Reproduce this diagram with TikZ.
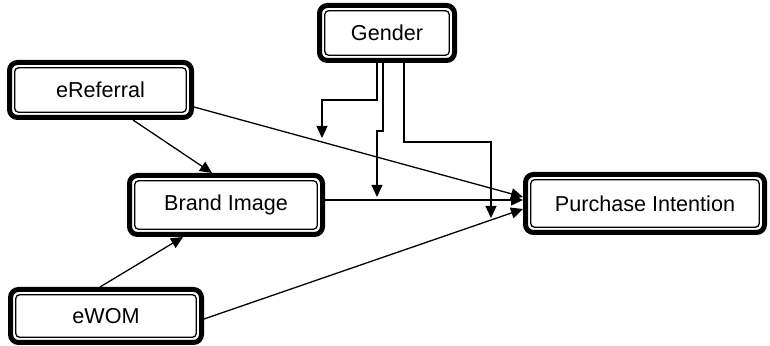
\documentclass[tikz,border=0pt]{standalone}
\usepackage{fontspec}
\setmainfont{Liberation Sans}
\usetikzlibrary{arrows.meta}

\begin{document}
\begin{tikzpicture}[x=0.5pt, y=-0.5pt,
  every node/.style={draw, line width=0.65pt, rounded corners=2pt, inner sep=0pt, outer sep=3.85pt, font=\fontsize{10.8}{13}\selectfont},
  frame/.style={line width=2.5pt, rounded corners=4pt},
  link/.style={line width=0.65pt, -{Triangle[length=6pt,width=5.5pt]}}]
\useasboundingbox (0,0) rectangle (770,346);

\node[minimum width=62.3pt, minimum height=22.3pt] (gender) at (387,33) {Gender};
\node[minimum width=85.8pt, minimum height=22.3pt] (eref) at (100.5,90) {eReferral};
\node[minimum width=91.3pt, minimum height=24.3pt] (bi) at (226,205) {Brand Image};
\node[minimum width=90.3pt, minimum height=21.3pt] (ewom) at (106,316) {eWOM};
\node[minimum width=114.3pt, minimum height=23.8pt] (pi) at (645,203.5) {Purchase Intention};

\foreach \n in {gender,eref,bi,ewom,pi}
  \draw[frame] ([shift={(1.25pt,1.25pt)}]\n.south west) rectangle ([shift={(-1.25pt,-1.25pt)}]\n.north east);

\draw[link] ([xshift=16.25pt]eref.south) -- ([xshift=-7pt]bi.north);
\draw[link] ([xshift=-3pt]ewom.north) -- ([xshift=-21.5pt]bi.south);
\draw[link] ([yshift=-8.5pt]eref.east) -- ([yshift=3.25pt]pi.west);
\coordinate (bimid) at ([yshift=2.5pt]bi.east);
\draw[link] (bimid) -- (bimid -| pi.west);
\draw[link] ([yshift=-1.5pt]ewom.east) -- ([yshift=-2.75pt]pi.west);

% moderating paths from gender
\coordinate (modA) at (322,138);
\coordinate (modB) at (377,197);
\coordinate (modC) at (491,218);
\draw[link] ([xshift=-5pt]gender.south) -- ++(0,37) -| (modA);
\draw[link] ([xshift=-2pt]gender.south) -- ++(0,68) -| (modB);
\draw[link] ([xshift=8.5pt]gender.south) -- ++(0,79) -| (modC);
\end{tikzpicture}
\end{document}
